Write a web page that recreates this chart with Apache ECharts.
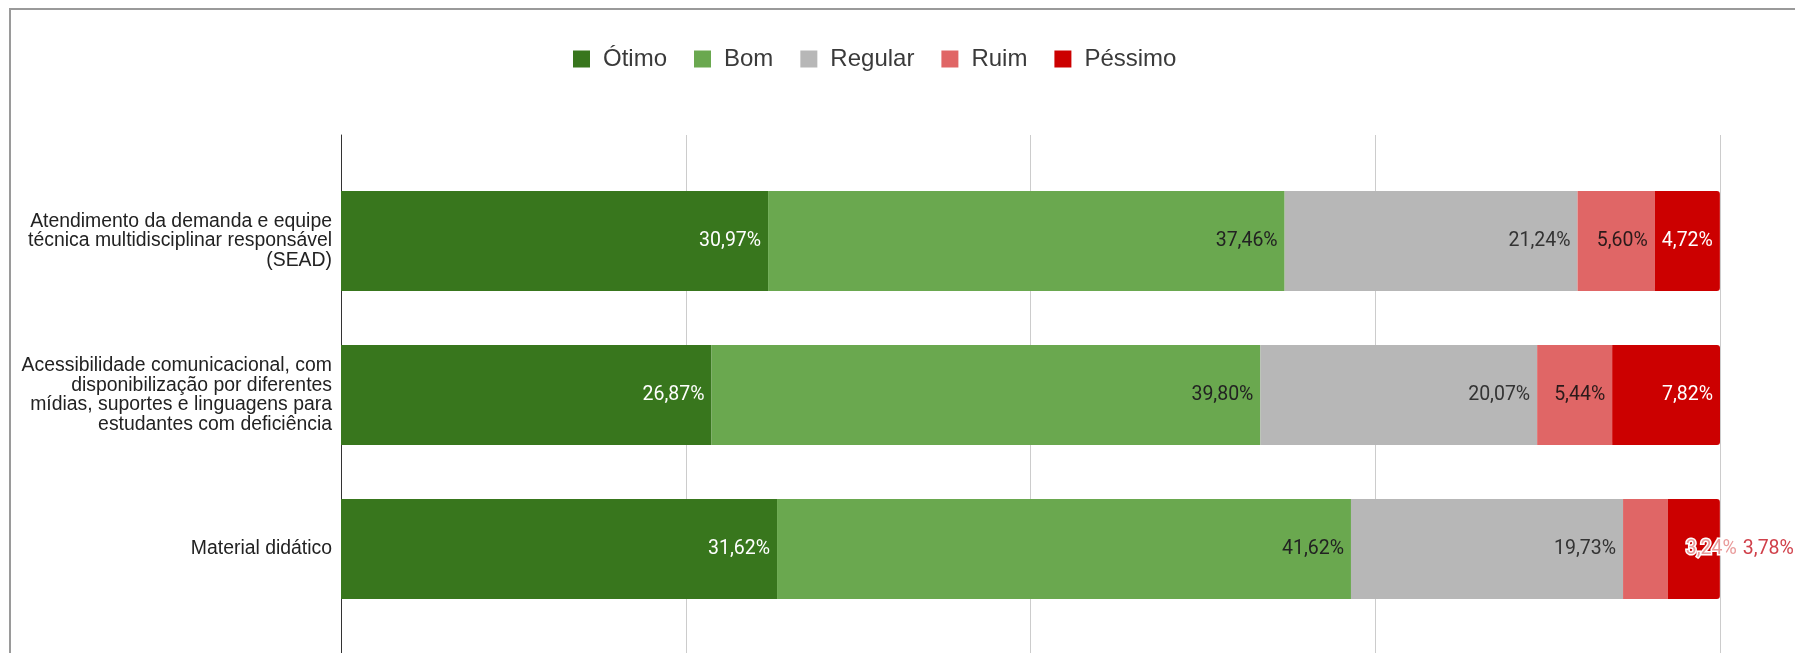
<!DOCTYPE html>
<html>
<head>
<meta charset="utf-8">
<script src="https://cdn.jsdelivr.net/npm/echarts@6/dist/echarts.min.js"></script>
<style>
html,body{margin:0;padding:0;background:#fff;}
#chart{width:1795px;height:653px;}
</style>
</head>
<body>
<div id="chart"></div>
<script>
const categories = [
  'Atendimento da demanda e equipe\ntécnica multidisciplinar responsável\n(SEAD)',
  'Acessibilidade comunicacional, com\ndisponibilização por diferentes\nmídias, suportes e linguagens para\nestudantes com deficiência',
  'Material didático'
];
const seriesNames = ['Ótimo', 'Bom', 'Regular', 'Ruim', 'Péssimo'];
const otimo   = [30.97, 26.87, 31.62];
const bom     = [37.46, 39.80, 41.62];
const regular = [21.24, 20.07, 19.73];
const ruim    = [5.60, 5.44, 3.24];
const pessimo = [4.72, 7.82, 3.78];
const xTicks  = [0, 25, 50, 75, 100];

const colors = ['#38761d', '#6aa84f', '#b7b7b7', '#e06666', '#cc0000'];
const labelColors = ['#ffffff', '#222222', '#333333', '#2a1a1a', '#ffffff'];
const outsideColors = ['#38761d', '#6aa84f', '#b7b7b7', '#e99a9a', '#d0404a'];
const values = [otimo, bom, regular, ruim, pessimo];

const fmt = p => p.value.toFixed(2).replace('.', ',') + '%';

const series = values.map((arr, si) => ({
  name: seriesNames[si],
  type: 'bar',
  stack: 'total',
  xAxisIndex: 0,
  yAxisIndex: 0,
  barWidth: 100,
  itemStyle: {
    color: colors[si],
    borderRadius: si === 4 ? [0, 3, 3, 0] : 0
  },
  label: {
    show: true,
    position: 'insideRight',
    distance: 7,
    formatter: fmt,
    color: labelColors[si],
    fontFamily: 'Roboto',
    fontSize: 19.5
  },
  data: arr.map((v, i) => {
    // labels that do not fit inside their segment are drawn outside
    if (i === 2 && (si === 3 || si === 4)) {
      return {
        value: v,
        label: {
          position: 'right',
          distance: si === 3 ? 18 : 23,
          color: outsideColors[si],
          textBorderColor: '#ffffff',
          textBorderWidth: 3
        }
      };
    }
    return v;
  })
}));

const chart = echarts.init(document.getElementById('chart'), null, { renderer: 'canvas' });
chart.setOption({
  backgroundColor: '#ffffff',
  animation: false,
  graphic: [{
    type: 'rect',
    z: -10,
    shape: { x: 10, y: 9, width: 1900, height: 800 },
    style: { fill: 'none', stroke: '#9a9a9a', lineWidth: 2 }
  }],
  legend: {
    data: seriesNames,
    left: 568,
    top: 42,
    icon: 'rect',
    itemWidth: 17,
    itemHeight: 17,
    itemGap: 27,
    textStyle: {
      fontFamily: 'Liberation Sans',
      fontSize: 24,
      color: '#3a3a3a',
      padding: [0, 0, 0, 8]
    }
  },
  grid: [
    { left: 341, right: 75, top: 164, height: 462 },
    { left: 341, right: 75, top: 135, bottom: -20 }
  ],
  xAxis: [
    { gridIndex: 0, type: 'value', min: xTicks[0], max: xTicks[xTicks.length - 1], interval: 25, show: false },
    {
      gridIndex: 1, type: 'value', min: xTicks[0], max: xTicks[xTicks.length - 1], interval: 25,
      axisLine: { show: false }, axisTick: { show: false }, axisLabel: { show: false },
      splitLine: { show: true, lineStyle: { color: '#cccccc', width: 1 } }
    }
  ],
  yAxis: [
    {
      gridIndex: 0, type: 'category', inverse: true, data: categories,
      axisLine: { show: false }, axisTick: { show: false },
      axisLabel: {
        margin: 9,
        fontFamily: 'Liberation Sans',
        fontSize: 19.4,
        lineHeight: 19.5,
        color: '#222',
        align: 'right'
      }
    },
    {
      gridIndex: 1, type: 'value', min: 0, max: 1,
      axisLine: { show: true, lineStyle: { color: '#333333', width: 1 } },
      axisTick: { show: false }, axisLabel: { show: false }, splitLine: { show: false }
    }
  ],
  series: series
});
</script>
</body>
</html>
